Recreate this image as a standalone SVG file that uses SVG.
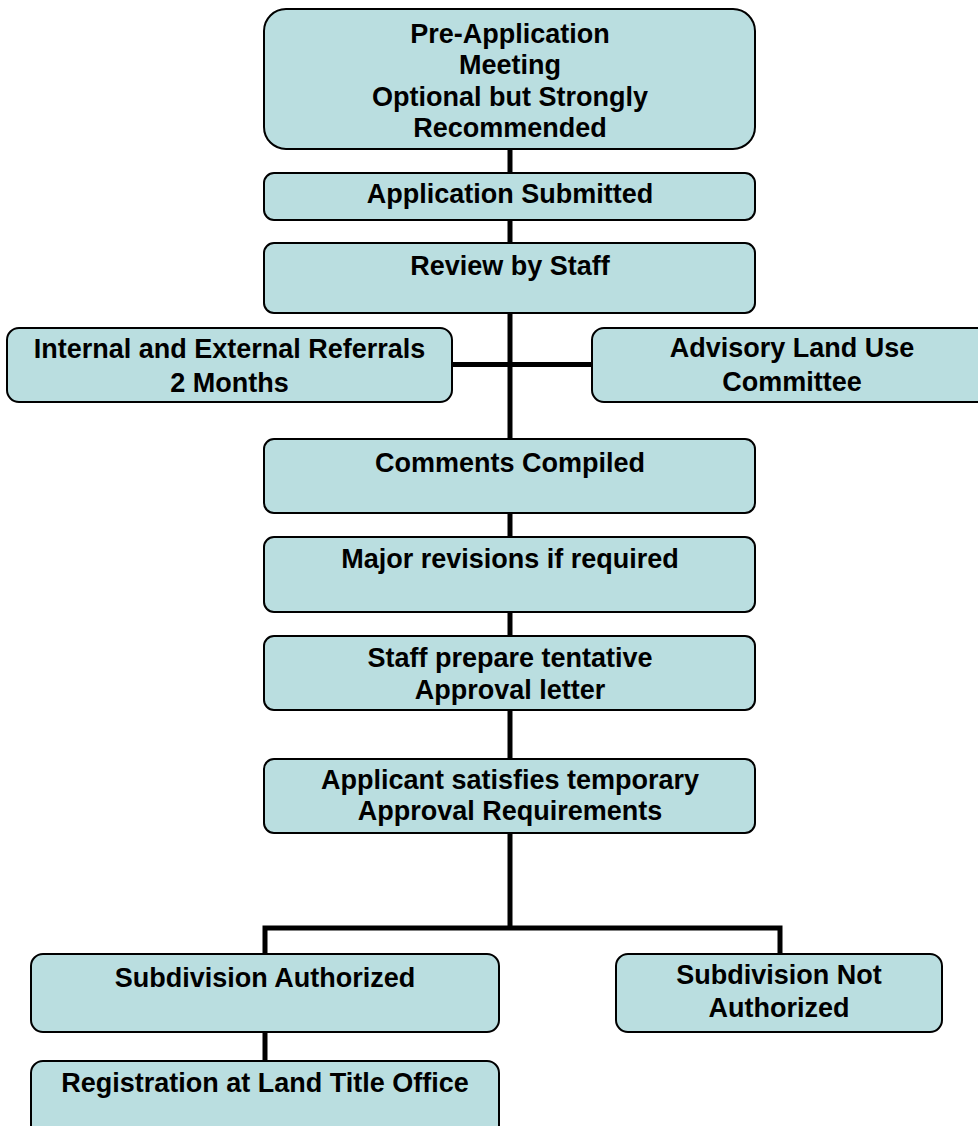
<svg xmlns="http://www.w3.org/2000/svg" width="978" height="1126" viewBox="0 0 978 1126">
<style>
.box{fill:#BADEE0;stroke:#000;stroke-width:2}
.t{font-family:"Liberation Sans",Arial,sans-serif;font-weight:bold;font-size:27px;fill:#000;text-anchor:middle}
.c{stroke:#000;stroke-width:5;fill:none}
</style>
<rect width="978" height="1126" fill="#fff"/>
<g id="connectors">
<line class="c" x1="510" y1="149" x2="510" y2="173"/>
<line class="c" x1="510" y1="220" x2="510" y2="243"/>
<line class="c" x1="510" y1="313" x2="510" y2="439"/>
<line class="c" x1="452" y1="364.5" x2="592" y2="364.5"/>
<line class="c" x1="510" y1="513" x2="510" y2="537"/>
<line class="c" x1="510" y1="612" x2="510" y2="636"/>
<line class="c" x1="510" y1="710" x2="510" y2="759"/>
<path class="c" d="M510 833 V928 M265 954 V928 H780 V954"/>
<line class="c" x1="265" y1="1032" x2="265" y2="1061"/>
</g>
<g id="n1"><rect class="box" x="264" y="9" width="491" height="140" rx="22"/>
<text class="t" x="510"><tspan x="510" y="43">Pre-Application</tspan><tspan x="510" y="74">Meeting</tspan><tspan x="510" y="105.5">Optional but Strongly</tspan><tspan x="510" y="137">Recommended</tspan></text></g>
<g id="n2"><rect class="box" x="264" y="173" width="491" height="47" rx="10"/>
<text class="t" x="510" y="203">Application Submitted</text></g>
<g id="n3"><rect class="box" x="264" y="243" width="491" height="70" rx="10"/>
<text class="t" x="510" y="275">Review by Staff</text></g>
<g id="n4"><rect class="box" x="7" y="328" width="445" height="74" rx="12"/>
<text class="t"><tspan x="229.5" y="358">Internal and External Referrals</tspan><tspan x="229.5" y="392">2 Months</tspan></text></g>
<g id="n5"><rect class="box" x="592" y="328" width="400" height="74" rx="12"/>
<text class="t"><tspan x="792" y="357">Advisory Land Use</tspan><tspan x="792" y="391">Committee</tspan></text></g>
<g id="n6"><rect class="box" x="264" y="439" width="491" height="74" rx="10"/>
<text class="t" x="510" y="472">Comments Compiled</text></g>
<g id="n7"><rect class="box" x="264" y="537" width="491" height="75" rx="10"/>
<text class="t" x="510" y="568">Major revisions if required</text></g>
<g id="n8"><rect class="box" x="264" y="636" width="491" height="74" rx="10"/>
<text class="t"><tspan x="510" y="667">Staff prepare tentative</tspan><tspan x="510" y="698.5">Approval letter</tspan></text></g>
<g id="n9"><rect class="box" x="264" y="759" width="491" height="74" rx="10"/>
<text class="t"><tspan x="510" y="788.5">Applicant satisfies temporary</tspan><tspan x="510" y="820">Approval Requirements</tspan></text></g>
<g id="n10"><rect class="box" x="31" y="954" width="468" height="78" rx="12"/>
<text class="t" x="265" y="987">Subdivision Authorized</text></g>
<g id="n11"><rect class="box" x="616" y="954" width="326" height="78" rx="12"/>
<text class="t"><tspan x="779" y="984">Subdivision Not</tspan><tspan x="779" y="1017">Authorized</tspan></text></g>
<g id="n12"><rect class="box" x="31" y="1061" width="468" height="80" rx="12"/>
<text class="t" x="265" y="1092">Registration at Land Title Office</text></g>
</svg>
